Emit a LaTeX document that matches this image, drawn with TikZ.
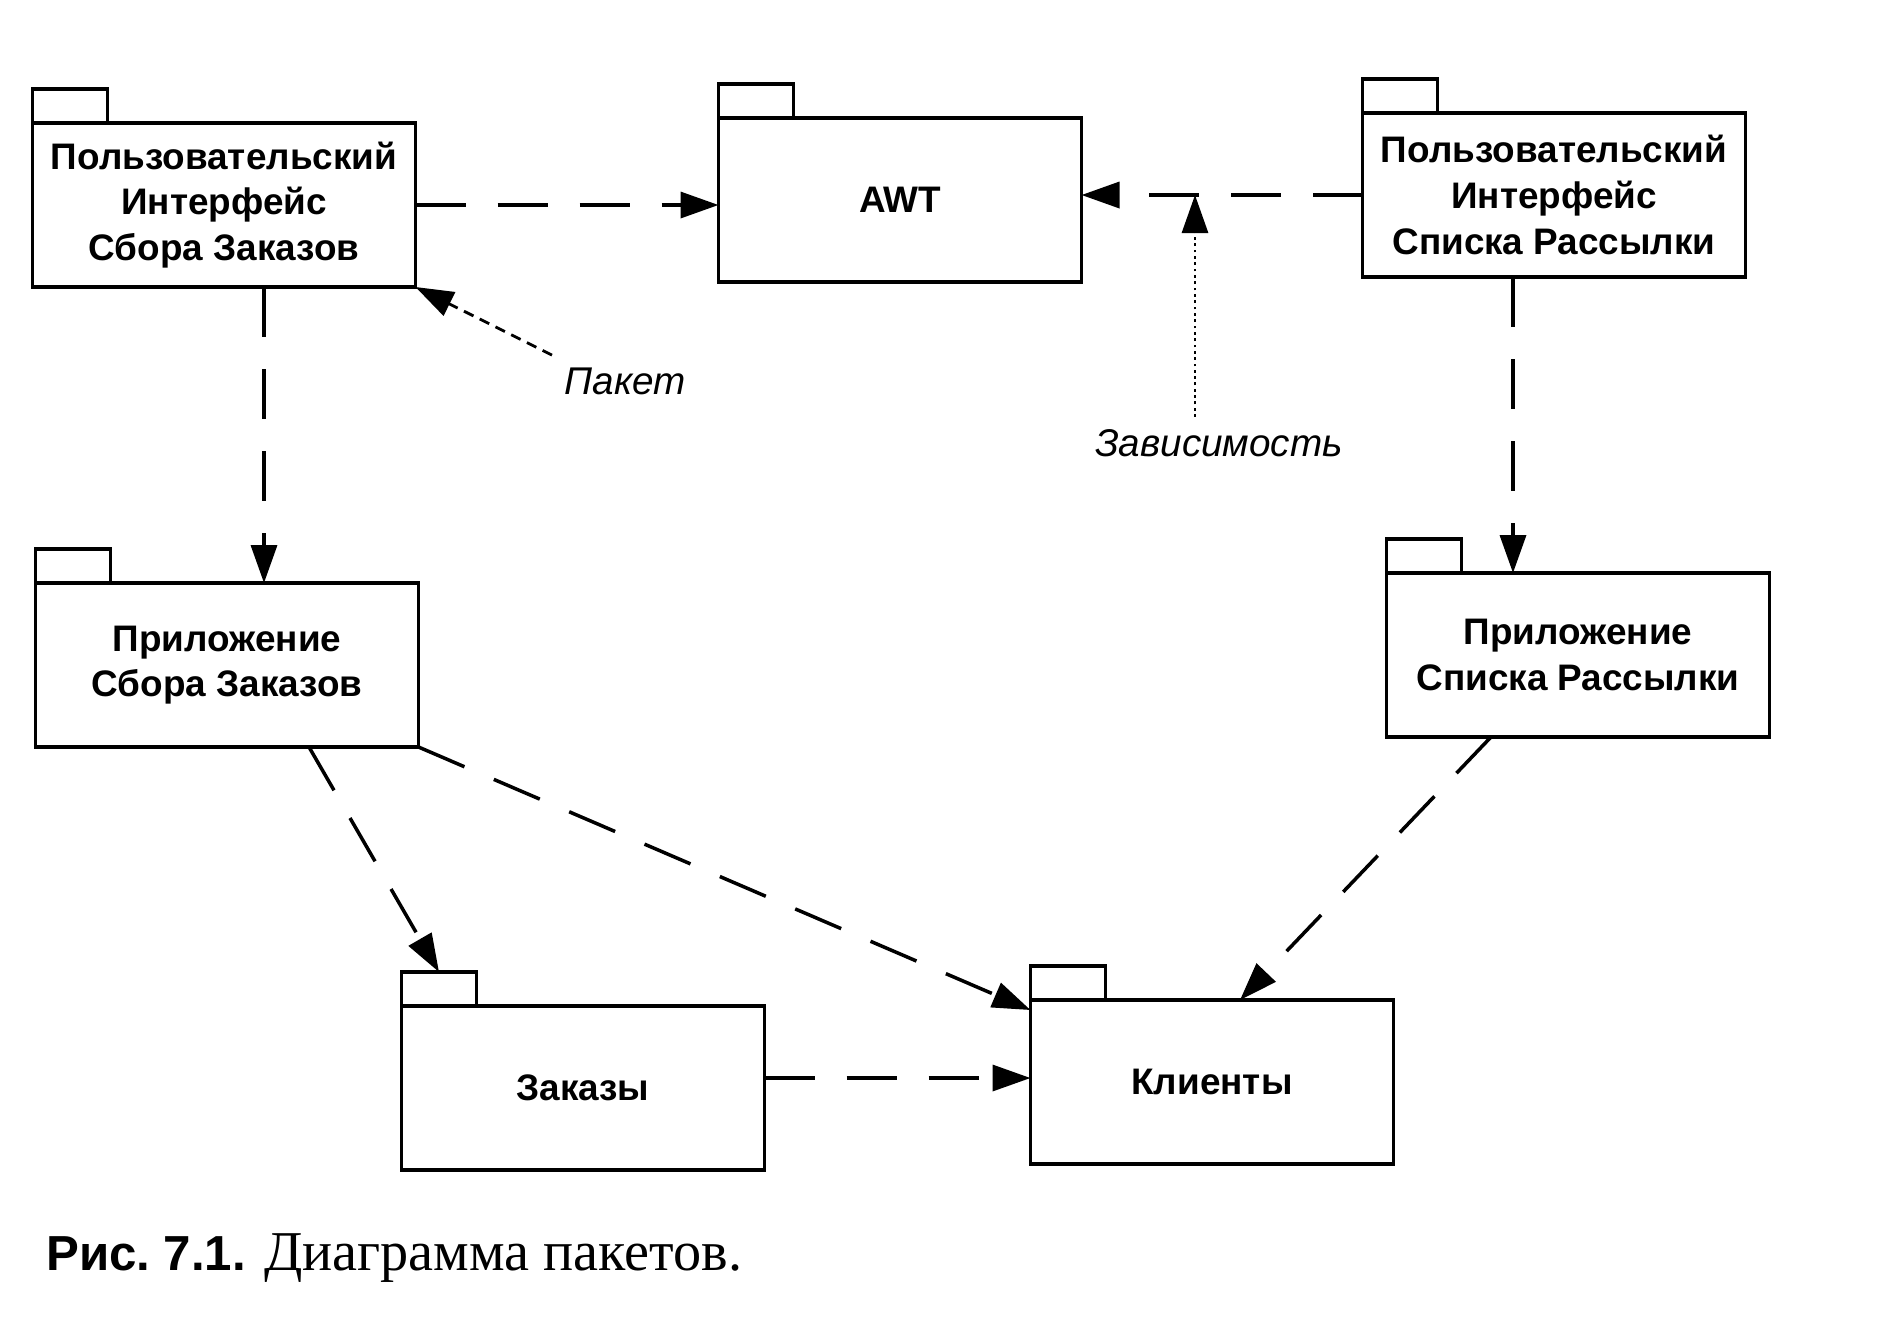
\documentclass[tikz,border=0pt]{standalone}
\usepackage{fontspec}
\setmainfont{Liberation Serif}
\setsansfont{Liberation Sans}
\usetikzlibrary{arrows.meta}

\begin{document}
\begin{tikzpicture}[
    pkg/.style={draw,line width=1.1pt,minimum width=3.83cm,minimum height=1.64cm,inner sep=2pt,outer sep=0pt,align=center,
      font=\sffamily\bfseries\fontsize{10.5}{13}\selectfont},
    tab/.style={draw,line width=1.1pt,minimum width=0.75cm,minimum height=0.34cm,inner sep=0pt,outer sep=0pt,anchor=south west},
    dep/.style={line width=1pt,dash pattern=on 5mm off 3.2mm,-{Triangle[length=3.8mm,width=2.6mm]}},
    note/.style={line width=0.8pt,-{Triangle[length=3.8mm,width=2.6mm]}},
    lbl/.style={font=\sffamily\itshape\fontsize{11}{13}\selectfont}]
  \useasboundingbox (0,0) rectangle (18.78,-13.38);
  % packages
  \node[pkg] (ui) at (2.24,-2.05) {Пользовательский\\Интерфейс\\Сбора Заказов};
  \node[pkg,minimum width=3.63cm] (awt) at (9.00,-2.00) {AWT};
  \node[pkg] (mui) at (15.54,-1.95) {Пользовательский\\Интерфейс\\Списка Рассылки};
  \node[pkg] (app) at (2.27,-6.65) {Приложение\\Сбора Заказов};
  \node[pkg] (mapp) at (15.78,-6.55) {Приложение\\Списка Рассылки};
  \node[pkg,minimum width=3.63cm] (ord) at (5.83,-10.88) {Заказы};
  \node[pkg,minimum width=3.63cm] (cust) at (12.12,-10.82) {Клиенты};
  \foreach \n in {ui,awt,mui,app,mapp,ord,cust}
    \node[tab] (\n-tab) at (\n.north west) {};
  % dependencies
  \draw[dep] (ui.east) -- (ui.east -| awt.west);
  \draw[dep] (mui.west) -- (mui.west -| awt.east);
  \draw[dep] ([xshift=4mm]ui.south) -- ([xshift=4mm]ui.south |- app.north);
  \draw[dep] ([xshift=-4.1mm]mui.south) -- ([xshift=-4.1mm]mui.south |- mapp.north);
  \draw[dep] ([xshift=8.2mm]app.south) -- (ord-tab.north);
  \draw[dep] (app.south east) -- ([yshift=-1mm]cust.north west);
  \draw[dep] ([xshift=-8.7mm]mapp.south) -- ([xshift=2.8mm]cust.north);
  \draw[dep] ([yshift=1mm]ord.east) -- ([yshift=1mm]ord.east -| cust.west);
  % notes
  \node[lbl] (pkt) at (6.25,-3.81) {Пакет};
  \draw[note,densely dashed] (pkt.north west) -- (ui.south east);
  \node[lbl] (zav) at (12.19,-4.43) {Зависимость};
  \coordinate (zt) at ([xshift=-2.4mm]zav.north);
  \draw[note,densely dotted] (zt) -- (zt |- mui.west);
  % caption
  \node[anchor=base west,inner sep=0pt] (cap) at (0.455,-12.70)
    {\sffamily\bfseries\fontsize{14}{16}\selectfont Рис.~7.1. \rmfamily\mdseries\fontsize{16}{18}\selectfont Диаграмма пакетов.};
\end{tikzpicture}
\end{document}
